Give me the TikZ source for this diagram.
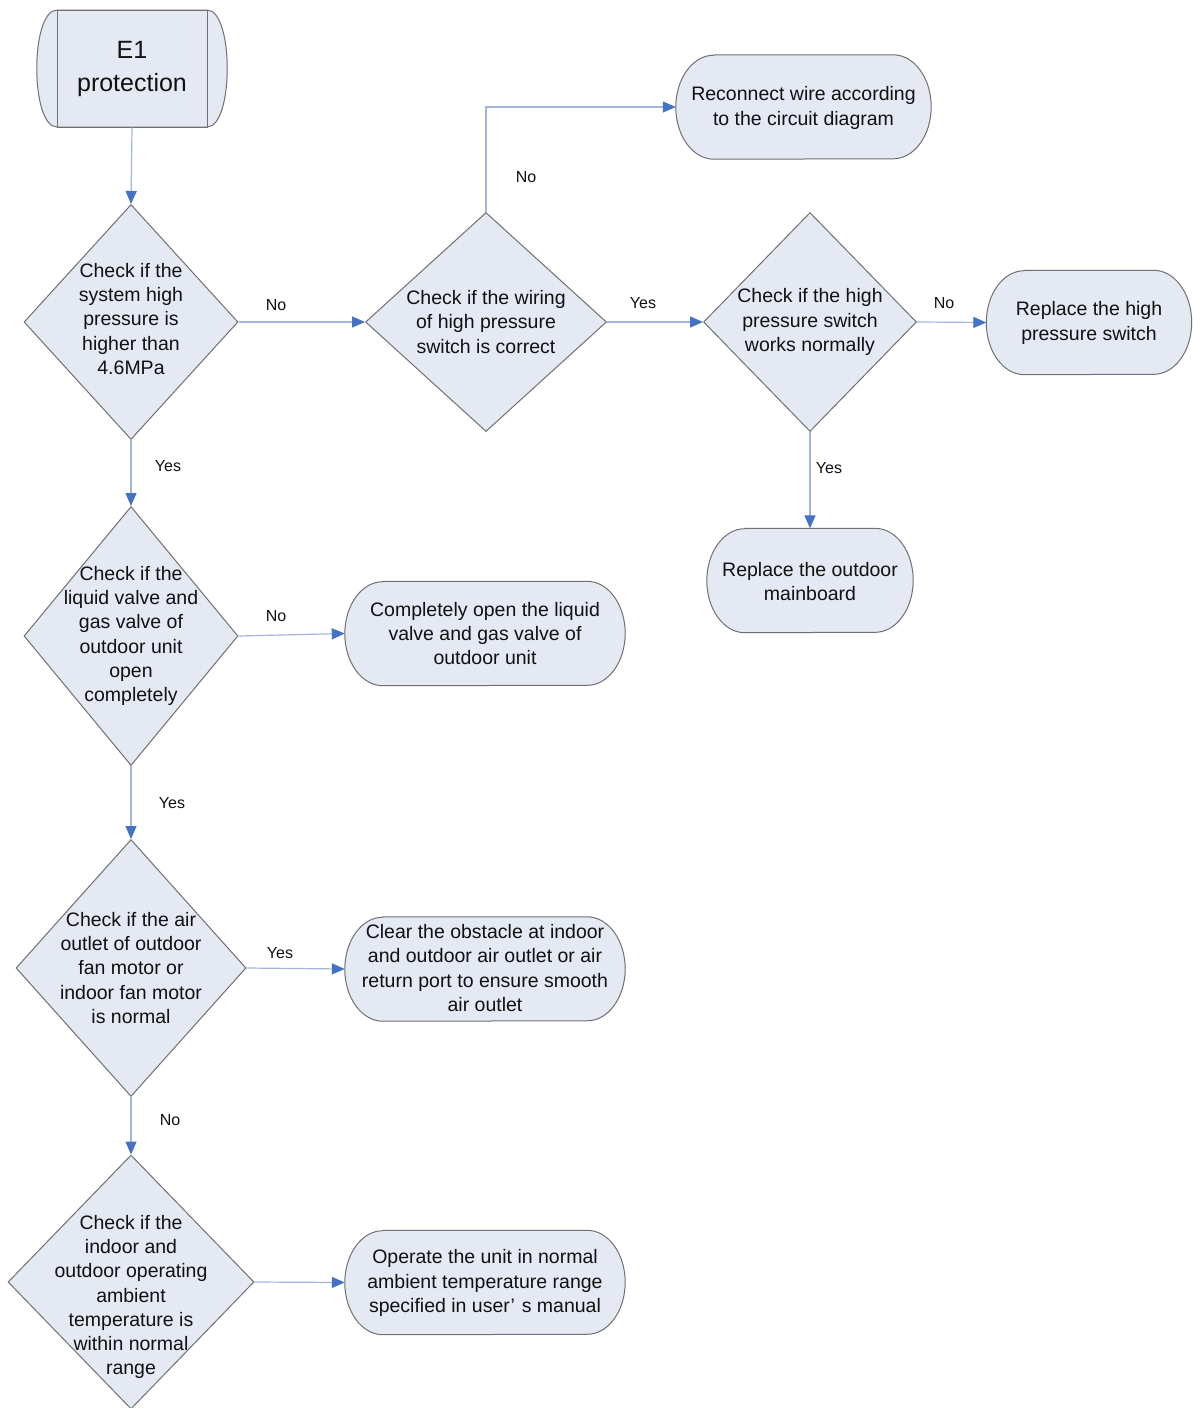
\documentclass[tikz,border=0pt]{standalone}
\usepackage{fontspec}
\setmainfont{Liberation Sans}
\usetikzlibrary{shapes.geometric,arrows.meta,backgrounds}
\definecolor{shapefill}{HTML}{E4E9F4}
\definecolor{shapeedge}{HTML}{707070}
\definecolor{linec}{HTML}{A3B6DA}
\definecolor{tipc}{HTML}{4472C4}
\definecolor{txtc}{HTML}{111111}
\newcommand\drawpill[1]{\path[pillshape] ([xshift=38pt]#1.north west) -- ([xshift=-38pt]#1.north east) arc[start angle=90,end angle=-90,x radius=38pt,y radius=52pt] -- ([xshift=38pt]#1.south west) arc[start angle=270,end angle=90,x radius=38pt,y radius=52pt] -- cycle;}
\begin{document}
\begin{tikzpicture}[x=1pt,y=-1pt,
 txt/.style={align=center, text=txtc, font=\fontsize{19.5}{24.3}\selectfont, inner sep=0},
 lbl/.style={text=txtc, font=\fontsize{16}{19}\selectfont, inner sep=0},
 dia/.style={diamond, draw=shapeedge, fill=shapefill, line width=1pt, inner sep=0},
 pillbox/.style={rectangle, inner sep=0, minimum height=104pt},
 pillshape/.style={draw=shapeedge, fill=shapefill, line width=1pt},
 conn/.style={draw=linec, line width=1.2pt, -{Triangle[length=13pt,width=11pt,color=tipc]}}
]
\useasboundingbox (0,0) rectangle (1192,1408);

% start terminal
\path[pillshape] (57,10) -- (207,10) .. controls (234,10) and (234,127) .. (207,127) -- (57,127) .. controls (30,127) and (30,10) .. (57,10) -- cycle;
\node[draw=shapeedge, line width=1pt, minimum width=150pt, minimum height=117pt, inner sep=0] (s) at (132,68.5) {};
\node[align=center, text=txtc, font=\fontsize{25}{33}\selectfont, inner sep=0] (st) at (132,69) {E1\\protection};

% diamonds
\node[dia, minimum width=214pt, minimum height=235pt] (d1) at (131,322) {};
\node[txt] (d1t) at (131,319) {Check if the\\system high\\pressure is\\higher than\\4.6MPa};
\node[dia, minimum width=241pt, minimum height=219pt] (d2) at (486,322) {};
\node[txt] (d2t) at (486,322) {Check if the wiring\\of high pressure\\switch is correct};
\node[dia, minimum width=213pt, minimum height=219pt] (d3) at (810,322) {};
\node[txt] (d3t) at (810,322) {Check if the high\\pressure switch\\works normally};
\node[dia, minimum width=214pt, minimum height=259pt] (d4) at (131,636) {};
\node[txt] (d4t) at (131,636) {Check if the\\liquid valve and\\gas valve of\\outdoor unit\\open\\completely};
\node[dia, minimum width=230pt, minimum height=257pt] (d5) at (131,968) {};
\node[txt] (d5t) at (131,968) {Check if the air\\outlet of outdoor\\fan motor or\\indoor fan motor\\is normal};
\node[dia, minimum width=246pt, minimum height=254pt] (d6) at (131,1282) {};
\node[txt] (d6t) at (131,1297) {Check if the\\indoor and\\outdoor operating\\ambient\\temperature is\\within normal\\range};

% pills
\node[pillbox, minimum width=255pt] (p1) at (803.5,107) {};
\node[pillbox, minimum width=205pt] (p2) at (1089,322.5) {};
\node[pillbox, minimum width=206pt] (p3) at (810,580.5) {};
\node[pillbox, minimum width=280pt] (p4) at (485,633.5) {};
\node[pillbox, minimum width=280pt] (p5) at (485,969) {};
\node[pillbox, minimum width=280pt] (p6) at (485,1282.5) {};
\begin{scope}[on background layer]
\fill[white] (0,0) rectangle (1192,1408);
\drawpill{p1}\drawpill{p2}\drawpill{p3}\drawpill{p4}\drawpill{p5}\drawpill{p6}
\end{scope}
\node[txt] (p1t) at (803.5,108) {Reconnect wire according\\to the circuit diagram};
\node[txt] (p2t) at (1089,323) {Replace the high\\pressure switch};
\node[txt] (p3t) at (810,581.5) {Replace the outdoor\\mainboard};
\node[txt] (p4t) at (485,633.5) {Completely open the liquid\\valve and gas valve of\\outdoor unit};
\node[txt] (p5t) at (485,968) {Clear the obstacle at indoor\\and outdoor air outlet or air\\return port to ensure smooth\\air outlet};
\node[txt] (p6t) at (485,1283) {Operate the unit in normal\\ambient temperature range\\specified in user’\hspace{0.35em}s manual};

% connectors
\draw[conn] (s.south) -- (d1.north);
\draw[conn] (d1.east) -- (d2.west);
\draw[conn] (d2.north) |- (p1.west);
\draw[conn] (d2.east) -- (d3.west);
\draw[conn] (d3.east) -- (p2.west);
\draw[conn] (d3.south) -- (p3.north);
\draw[conn] (d1.south) -- (d4.north);
\draw[conn] (d4.east) -- (p4.west);
\draw[conn] (d4.south) -- (d5.north);
\draw[conn] (d5.east) -- (p5.west);
\draw[conn] (d5.south) -- (d6.north);
\draw[conn] (d6.east) -- (p6.west);

% labels
\node[lbl] (l1) at (276,305) {No};
\node[lbl] (l2) at (526,177) {No};
\node[lbl] (l3) at (643,303) {Yes};
\node[lbl] (l4) at (944,303) {No};
\node[lbl] (l5) at (829,468) {Yes};
\node[lbl] (l6) at (168,466) {Yes};
\node[lbl] (l7) at (276,616) {No};
\node[lbl] (l8) at (172,803) {Yes};
\node[lbl] (l9) at (280,953) {Yes};
\node[lbl] (l10) at (170,1120) {No};
\end{tikzpicture}
\end{document}
